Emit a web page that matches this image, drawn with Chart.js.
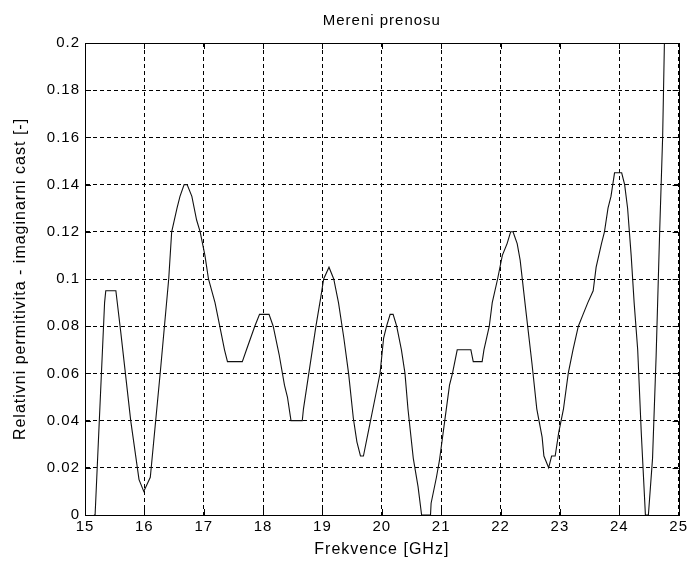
<!DOCTYPE html>
<html>
<head>
<meta charset="utf-8">
<title>Mereni prenosu</title>
<script src="https://cdn.jsdelivr.net/npm/chart.js@4.4.1/dist/chart.umd.min.js"></script>
<style>
  html, body { margin: 0; padding: 0; background: #fff; }
</style>
</head>
<body>
<canvas id="plot" width="691" height="562"></canvas>
<script>
// measured imaginary part of relative permittivity vs. frequency
const freq = [
  15.15, 15.17, 15.33, 15.35, 15.52, 15.60, 15.77, 15.91, 15.99, 16.10,
  16.27, 16.41, 16.46, 16.55, 16.60, 16.67, 16.72, 16.80, 16.88, 16.94,
  17.02, 17.08, 17.19, 17.27, 17.35, 17.40, 17.65, 17.72, 17.86, 17.94,
  18.10, 18.17, 18.27, 18.36, 18.41, 18.47, 18.66, 18.68, 18.77, 18.89,
  18.97, 19.02, 19.11, 19.19, 19.27, 19.36, 19.44, 19.52, 19.58, 19.64,
  19.69, 19.77, 19.89, 19.97, 20.03, 20.08, 20.14, 20.19, 20.25, 20.33,
  20.39, 20.44, 20.53, 20.61, 20.67, 20.82, 20.83, 20.92, 20.97, 21.06,
  21.14, 21.19, 21.27, 21.50, 21.54, 21.69, 21.72, 21.81, 21.86, 21.95,
  22.03, 22.11, 22.17, 22.21, 22.28, 22.33, 22.42, 22.53, 22.61, 22.70,
  22.73, 22.81, 22.86, 22.92, 22.98, 23.06, 23.14, 23.22, 23.31, 23.39,
  23.47, 23.56, 23.61, 23.70, 23.75, 23.81, 23.86, 23.92, 24.04, 24.09,
  24.14, 24.20, 24.25, 24.31, 24.37, 24.44, 24.49, 24.56, 24.62, 24.68,
  24.73, 24.76, 24.78
];
const epsIm = [
  0.000, 0.000, 0.090, 0.095, 0.095, 0.078, 0.040, 0.015, 0.010, 0.016,
  0.061, 0.100, 0.120, 0.130, 0.135, 0.140, 0.140, 0.135, 0.125, 0.120,
  0.110, 0.100, 0.090, 0.080, 0.070, 0.065, 0.065, 0.070, 0.080, 0.085,
  0.085, 0.080, 0.068, 0.055, 0.050, 0.040, 0.040, 0.045, 0.060, 0.080,
  0.092, 0.100, 0.105, 0.100, 0.090, 0.075, 0.060, 0.041, 0.031, 0.025,
  0.025, 0.035, 0.050, 0.060, 0.075, 0.080, 0.085, 0.085, 0.080, 0.070,
  0.060, 0.045, 0.024, 0.012, 0.000, 0.000, 0.005, 0.016, 0.023, 0.040,
  0.055, 0.060, 0.070, 0.070, 0.065, 0.065, 0.070, 0.080, 0.090, 0.100,
  0.110, 0.115, 0.120, 0.120, 0.115, 0.108, 0.088, 0.064, 0.045, 0.033,
  0.025, 0.020, 0.025, 0.025, 0.035, 0.045, 0.060, 0.070, 0.080, 0.085,
  0.090, 0.095, 0.105, 0.115, 0.120, 0.130, 0.135, 0.145, 0.145, 0.140,
  0.130, 0.110, 0.090, 0.070, 0.035, 0.000, 0.000, 0.024, 0.067, 0.120,
  0.160, 0.200, 0.215
];
const xTicks = [15, 16, 17, 18, 19, 20, 21, 22, 23, 24, 25];
const yTicks = [0, 0.02, 0.04, 0.06, 0.08, 0.1, 0.12, 0.14, 0.16, 0.18, 0.2];

Chart.defaults.font.family = 'Liberation Sans, Arial, sans-serif';
Chart.defaults.color = '#000';

// the old plot font is spaced out a little wider than Arial
const spacingPlugin = {
  id: 'letterSpacing',
  beforeLayout(chart) { chart.ctx.letterSpacing = '1px'; },
  beforeDraw(chart) { chart.ctx.letterSpacing = '1px'; }
};

// closed axes box with short inward ticks on all four sides
const boxPlugin = {
  id: 'axesBox',
  afterDraw(chart) {
    const ctx = chart.ctx;
    const a = chart.chartArea;
    const xs = chart.scales.x, ys = chart.scales.y;
    const tl = 6;
    ctx.save();
    ctx.strokeStyle = '#000';
    ctx.lineWidth = 1;
    ctx.beginPath();
    xTicks.forEach(v => {
      const px = Math.round(xs.getPixelForValue(v)) + 0.5;
      ctx.moveTo(px, a.top); ctx.lineTo(px, a.top + tl);
      ctx.moveTo(px, a.bottom); ctx.lineTo(px, a.bottom - tl);
    });
    yTicks.forEach(v => {
      const py = Math.round(ys.getPixelForValue(v)) + 0.5;
      ctx.moveTo(a.left, py); ctx.lineTo(a.left + tl, py);
      ctx.moveTo(a.right, py); ctx.lineTo(a.right - tl, py);
    });
    ctx.stroke();
    ctx.strokeRect(Math.round(a.left) + 0.5, Math.round(a.top) + 0.5,
      Math.round(a.right - a.left), Math.round(a.bottom - a.top));
    ctx.restore();
  }
};

const points = freq.map((f, i) => ({ x: f, y: epsIm[i] }));

new Chart(document.getElementById('plot'), {
  type: 'line',
  data: {
    datasets: [{
      data: points,
      borderColor: '#111',
      borderWidth: 1.1,
      pointRadius: 0,
      tension: 0,
      fill: false
    }]
  },
  options: {
    responsive: false,
    animation: false,
    devicePixelRatio: 1,
    layout: { padding: { top: 0, right: 9, bottom: 0, left: 0 } },
    plugins: {
      legend: { display: false },
      tooltip: { enabled: false }
    },
    scales: {
      // top axis only carries the plot title, centred over the axes box
      top: {
        type: 'linear',
        axis: 'x',
        position: 'top',
        min: 15,
        max: 25,
        afterFit: s => { s.height = 43; },
        grid: { display: false },
        border: { display: false },
        ticks: { display: false },
        title: {
          display: true,
          text: 'Mereni prenosu',
          font: { size: 15 },
          padding: { top: 12, bottom: 0 }
        }
      },
      x: {
        type: 'linear',
        position: 'bottom',
        min: 15,
        max: 25,
        afterBuildTicks: s => { s.ticks = xTicks.map(v => ({ value: v })); },
        afterFit: s => { s.height = 47; },
        grid: { color: '#000', lineWidth: 1, drawTicks: false },
        border: { display: true, color: '#000', dash: [4, 3] },
        ticks: { padding: 3, font: { size: 15 }, maxRotation: 0 },
        title: {
          display: true,
          text: 'Frekvence [GHz]',
          font: { size: 16 },
          padding: { top: 0, bottom: 3 }
        }
      },
      y: {
        type: 'linear',
        min: 0,
        max: 0.2,
        afterBuildTicks: s => { s.ticks = yTicks.map(v => ({ value: v })); },
        afterFit: s => { s.width = 85; },
        grid: { color: '#000', lineWidth: 1, drawTicks: false },
        border: { display: true, color: '#000', dash: [4, 3] },
        ticks: {
          padding: 5,
          font: { size: 15 },
          callback: v => String(Number(v.toFixed(2)))
        },
        title: {
          display: true,
          text: 'Relativni permitivita - imaginarni cast [-]',
          font: { size: 16 },
          padding: { top: 11, bottom: 0 }
        }
      }
    }
  },
  plugins: [spacingPlugin, boxPlugin]
});
</script>
</body>
</html>
